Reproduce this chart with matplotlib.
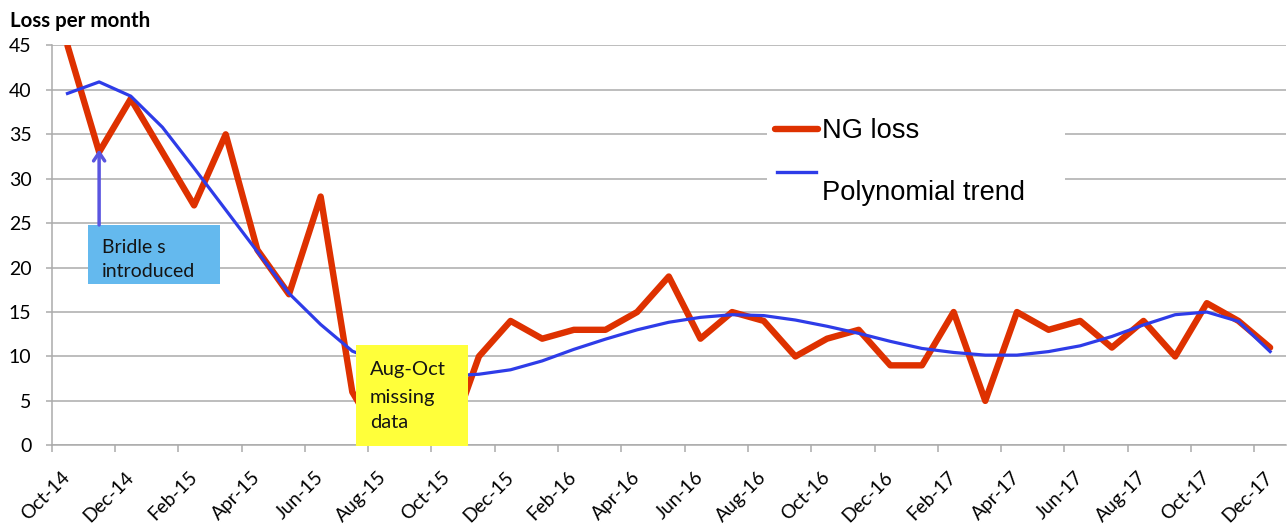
import matplotlib
matplotlib.use("Agg")
import matplotlib.pyplot as plt
from matplotlib.patches import Rectangle
from matplotlib.lines import Line2D
import numpy as np

plt.rcParams['font.family'] = ['Lato', 'DejaVu Sans']

# monthly data, Oct-14 .. Dec-17 (Aug-Oct 15 missing -> plotted as 0)
ng_loss = [45, 33, 39, 33, 27, 35, 22, 17, 28, 6,
           0, 0, 0, 10, 14, 12, 13, 13, 15, 19,
           12, 15, 14, 10, 12, 13, 9, 9, 15, 5,
           15, 13, 14, 11, 14, 10, 16, 14, 11]

# polynomial trend (one value per month)
trend = [39.6, 40.9, 39.3, 35.8, 31.2, 26.5, 21.8, 17.1, 13.6, 10.6,
         9.2, 8.3, 7.8, 8.0, 8.5, 9.5, 10.8, 11.95, 13.0, 13.85,
         14.4, 14.7, 14.6, 14.1, 13.4, 12.6, 11.7, 10.9, 10.45, 10.15,
         10.15, 10.55, 11.2, 12.25, 13.55, 14.7, 15.0, 13.95, 10.55]

tick_labels = ["Oct-14", "Dec-14", "Feb-15", "Apr-15", "Jun-15", "Aug-15",
               "Oct-15", "Dec-15", "Feb-16", "Apr-16", "Jun-16", "Aug-16",
               "Oct-16", "Dec-16", "Feb-17", "Apr-17", "Jun-17", "Aug-17",
               "Oct-17", "Dec-17"]
y_ticks = [0, 5, 10, 15, 20, 25, 30, 35, 40, 45]

RED = '#DE3100'
BLUE = '#2E3CE8'
GRID = '#ABABAB'

x = np.arange(len(ng_loss))

fig = plt.figure(figsize=(12.88, 5.29), dpi=100)
ax = fig.add_axes([0.0401, 0.1582, 0.9583, 0.7558])

ax.plot(x, ng_loss, color=RED, lw=4.6, solid_joinstyle='round',
        solid_capstyle='round', zorder=3)
ax.plot(x, trend, color=BLUE, lw=2.3, solid_joinstyle='round', zorder=4)

ax.set_xlim(-0.5, len(ng_loss) - 0.5)
ax.set_ylim(0, 45)

# labels on every second month, tick marks between categories
ax.set_xticks(np.arange(0, len(ng_loss), 2))
ax.set_xticklabels(tick_labels, rotation=45, ha='right', va='center',
                   rotation_mode='anchor', fontsize=13.8)
ax.set_xticks(np.arange(0, len(ng_loss), 2) - 0.5, minor=True)
ax.tick_params(axis='x', which='major', length=0, pad=21)
ax.tick_params(axis='x', which='minor', length=5, width=1.1, color=GRID)

ax.set_yticks(y_ticks)
ax.tick_params(axis='y', length=4.5, width=1.1, color=GRID, pad=10,
               labelsize=14)

ax.grid(axis='y', color=GRID, lw=1.1, zorder=0)
ax.set_axisbelow(True)
for s in ['top', 'right']:
    ax.spines[s].set_visible(False)
for s in ['left', 'bottom']:
    ax.spines[s].set_color(GRID)
    ax.spines[s].set_linewidth(1.1)

fig.text(0.0078, 0.9495, 'Loss per month', fontsize=14.8, fontweight='bold',
         va='baseline', ha='left')

# legend (drawn by hand, text sits below the blue handle in the original)
ax.add_patch(Rectangle((0.5795, 0.5836), 0.2415, 0.2676, transform=ax.transAxes,
                       facecolor='white', edgecolor='none', zorder=2))
ax.add_line(Line2D([0.5860, 0.6209], [0.7911, 0.7911], transform=ax.transAxes,
                   color=RED, lw=4.6, solid_capstyle='round', zorder=5))
ax.add_line(Line2D([0.5876, 0.6192], [0.6843, 0.6843], transform=ax.transAxes,
                   color=BLUE, lw=2.4, zorder=5))
ax.text(0.6241, 0.7679, 'NG loss', transform=ax.transAxes, fontsize=19.6,
        family=['Liberation Sans', 'DejaVu Sans'], va='baseline', zorder=5)
ax.text(0.6241, 0.6136, 'Polynomial trend', transform=ax.transAxes,
        fontsize=19.6, family=['Liberation Sans', 'DejaVu Sans'],
        va='baseline', zorder=5)

# "Bridles introduced" note with arrow
ax.add_patch(Rectangle((0.0297, 0.4035), 0.1067, 0.1476, transform=ax.transAxes,
                       facecolor='#64B9EE', edgecolor='none', zorder=5))
ax.text(0.0405, 0.4802, 'Bridle s', transform=ax.transAxes, fontsize=14,
        color='#141414', va='baseline', zorder=6)
ax.text(0.0405, 0.4202, 'introduced', transform=ax.transAxes, fontsize=14,
        color='#141414', va='baseline', zorder=6)
ax.annotate('', xy=(1, ng_loss[1] + 0.3), xytext=(1, 24.8),
            arrowprops=dict(arrowstyle='->,head_length=0.6,head_width=0.4',
                            color='#5A55E0', lw=2.5, shrinkA=0, shrinkB=0),
            zorder=6)

# missing data note
ax.add_patch(Rectangle((0.2465, -0.002), 0.091, 0.2529, transform=ax.transAxes,
                       facecolor='#FFFF3A', edgecolor='none', zorder=7,
                       clip_on=False))
for yy, s in zip([0.1761, 0.1051, 0.0425], ['Aug-Oct', 'missing', 'data']):
    ax.text(0.2580, yy, s, transform=ax.transAxes, fontsize=14.5,
            color='#141414', va='baseline', zorder=8)

fig.savefig('out.png', dpi=100)
